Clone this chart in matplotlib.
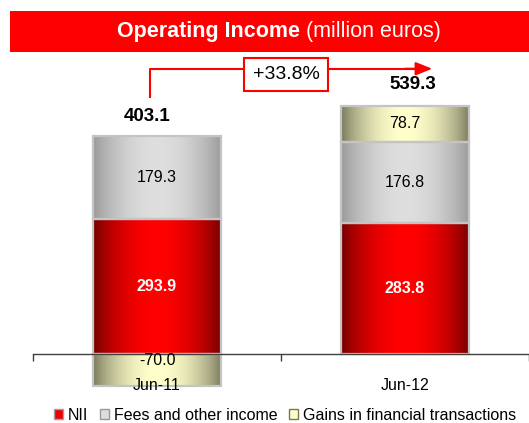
import numpy as np
import matplotlib
matplotlib.use("Agg")
import matplotlib.pyplot as plt
from matplotlib.patches import Rectangle, Patch
from matplotlib.colors import LinearSegmentedColormap

plt.rcParams['font.family'] = ['Liberation Sans', 'DejaVu Sans']

# -----------------------
# Data
# -----------------------
periods = ['Jun-11', 'Jun-12']
series = ['NII', 'Fees and other income', 'Gains in financial transactions']
nii = np.array([293.9, 283.8])
fees = np.array([179.3, 176.8])
gains = np.array([-70.0, 78.7])
totals = np.array([403.1, 539.3])
growth_label = '+33.8%'

# gradient colours (edge, centre) per series
edge_cols = ['#720000', '#989898', '#77775a']
mid_cols = ['#ff0000', '#dedede', '#ffffcc']
label_cols = ['white', 'black', 'black']
label_weights = ['bold', 'normal', 'normal']

# -----------------------
# Figure / axes
# -----------------------
W, H = 529, 423
fig = plt.figure(figsize=(W / 100, H / 100), dpi=100)
ax = fig.add_axes([33 / W, 23 / H, 496 / W, 340 / H])
ax.set_facecolor('none')

x = np.arange(len(periods))
bar_w = 0.52

bottoms_nii = np.zeros(len(periods))
bottoms_fees = nii
bottoms_gains = np.where(gains >= 0, nii + fees, 0)
stack_top = nii + fees + np.clip(gains, 0, None)

values = [nii, fees, gains]
bottoms = [bottoms_nii, bottoms_fees, bottoms_gains]

# horizontal gradient profile: dark edges, light centre
g = np.linspace(0, 1, 256)
profile = np.sin(np.pi * g) ** 0.8
grad = profile[np.newaxis, :]

for k in range(3):
    cmap = LinearSegmentedColormap.from_list('c%d' % k, [edge_cols[k], mid_cols[k]])
    bars = ax.bar(x, values[k], bottom=bottoms[k], width=bar_w,
                  facecolor='none', edgecolor='#c4c4c4', linewidth=1.6, zorder=1.5)
    for b in bars:
        x0, y0 = b.get_x(), b.get_y()
        w, h = b.get_width(), b.get_height()
        im = ax.imshow(grad, cmap=cmap, vmin=0, vmax=1, aspect='auto',
                       interpolation='bilinear',
                       extent=[x0, x0 + w, min(y0, y0 + h), max(y0, y0 + h)],
                       zorder=1)
        im.set_clip_path(b)

# segment labels
for k in range(3):
    for i in range(len(periods)):
        v = values[k][i]
        if v >= 0:
            ypos = bottoms[k][i] + v / 2
        else:
            ypos = v * 0.19
        ax.text(x[i], ypos, '%.1f' % v, ha='center', va='center',
                color=label_cols[k], fontweight=label_weights[k], fontsize=11.5,
                zorder=4)

# totals above the stacks
tot_dx = [-0.04, 0.032]
tot_dy = [42, 46]
for i in range(len(periods)):
    ax.text(x[i] + tot_dx[i], stack_top[i] + tot_dy[i], '%.1f' % totals[i],
            ha='center', va='center', fontweight='bold', fontsize=13.5)

# growth arrow
ax.plot([-0.028, -0.028, 1.06], [556, 620, 620], color='#ff0000', lw=1.5,
        solid_capstyle='butt', zorder=3)
ax.annotate('', xy=(1.11, 620), xytext=(1.0, 620),
            arrowprops=dict(arrowstyle='-|>,head_length=1.0,head_width=0.4',
                            color='#ff0000', lw=1.5, shrinkA=0, shrinkB=0),
            zorder=3)
ax.text(0.52, 607, growth_label, ha='center', va='center', fontsize=14,
        bbox=dict(boxstyle='square,pad=0.42', facecolor='white',
                  edgecolor='#ff0000', linewidth=1.5), zorder=4)

ax.set_xlim(-0.5, 1.484)
ax.set_ylim(-100, 639)

# axis line at zero
for s in ['top', 'right', 'left']:
    ax.spines[s].set_visible(False)
ax.spines['bottom'].set_position(('data', 0))
ax.spines['bottom'].set_color('#404040')
ax.spines['bottom'].set_linewidth(1.0)
ax.spines['bottom'].set_zorder(3)
ax.set_yticks([])
ax.set_xticks(x)
ax.set_xticklabels(periods, fontsize=11.5)
ax.tick_params(axis='x', which='major', length=0, pad=17)
ax.set_xticks([-0.5, 0.5, 1.5], minor=True)
ax.tick_params(axis='x', which='minor', length=5, width=1, color='#404040',
               direction='out')

# title banner
fig.patches.append(Rectangle((10 / W, 1 - 52 / H), 1 - 10 / W, 41 / H,
                             transform=fig.transFigure, facecolor='#ff0000',
                             edgecolor='none', zorder=0))
fig.text(300 / W, 1 - 31 / H, 'Operating Income', ha='right', va='center',
         color='white', fontweight='bold', fontsize=15.5)
fig.text(306 / W, 1 - 31 / H, '(million euros)', ha='left', va='center',
         color='white', fontsize=15.5)

# legend
handles = [Patch(facecolor=mid_cols[k], edgecolor=edge_cols[k] if k else '#b0b0b0',
                 linewidth=1.0, label=series[k]) for k in range(3)]
handles[0] = Patch(facecolor='#ee0000', edgecolor='#a0a0a0', linewidth=1.0, label=series[0])
fig.legend(handles=handles, loc='center', bbox_to_anchor=(285 / W, 1 - 415 / H),
           ncol=3, frameon=False, fontsize=11.5, handlelength=0.6,
           handleheight=0.6, handletextpad=0.3, columnspacing=0.7)

fig.savefig('out.png', dpi=100)
